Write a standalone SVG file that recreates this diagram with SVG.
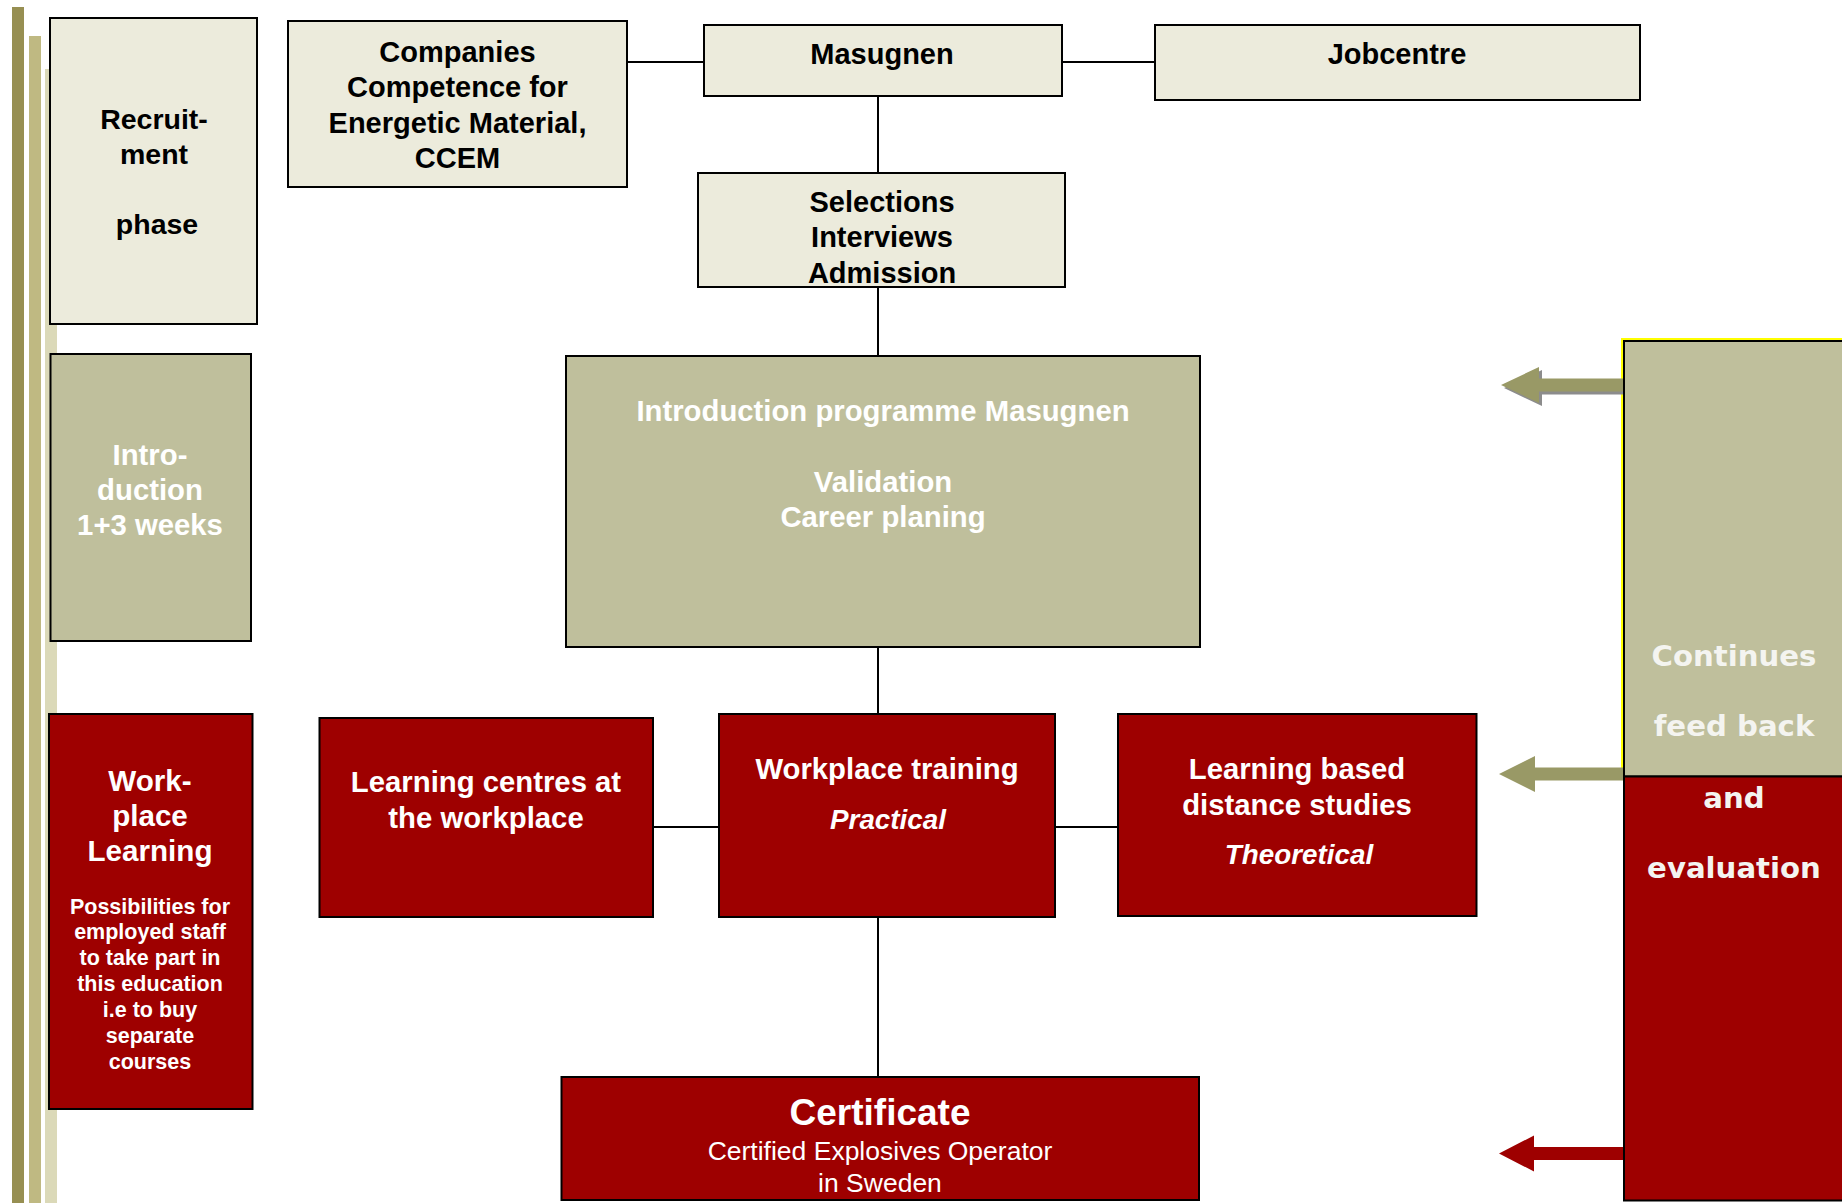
<svg xmlns="http://www.w3.org/2000/svg" width="1842" height="1203" viewBox="0 0 1842 1203">
<style>
.beige{fill:#ecebdc;stroke:#000;stroke-width:2}
.olive{fill:#bfbf9c;stroke:#000;stroke-width:2}
.red{fill:#9e0000;stroke:#000;stroke-width:2}
.conn{stroke:#000;stroke-width:2;fill:none}
text{font-family:"Liberation Sans",Arial,sans-serif;font-weight:bold;text-anchor:middle}
.dk{fill:#000;font-size:29px}
.wt{fill:#fff;font-size:29.3px}
.it{font-style:italic;font-size:27.8px}
.sm{fill:#fff;font-size:21.5px}
.vd{font-family:"DejaVu Sans",Verdana,sans-serif;fill:#f4f4f0;font-size:29.2px}
</style>
<rect width="1842" height="1203" fill="#fff"/>
<g id="bars">
<rect x="12" y="7" width="12" height="1196" fill="#978f52"/>
<rect x="29" y="36" width="12" height="1167" fill="#bfb982"/>
<rect x="45" y="69" width="12" height="1134" fill="#dbd9b8"/>
</g>
<g id="connectors">
<line class="conn" x1="627" y1="62" x2="704" y2="62"/>
<line class="conn" x1="1062" y1="62" x2="1155" y2="62"/>
<line class="conn" x1="878" y1="96" x2="878" y2="173"/>
<line class="conn" x1="878" y1="287" x2="878" y2="356"/>
<line class="conn" x1="878" y1="647" x2="878" y2="714"/>
<line class="conn" x1="878" y1="917" x2="878" y2="1077"/>
<line class="conn" x1="653" y1="827" x2="719" y2="827"/>
<line class="conn" x1="1055" y1="827" x2="1118" y2="827"/>
</g>
<g id="recruitment">
<rect class="beige" x="50" y="18" width="207" height="306"/>
<text class="dk" x="154" y="129" style="font-size:28.5px">Recruit-</text>
<text class="dk" x="154" y="164" style="font-size:28.5px">ment</text>
<text class="dk" x="157" y="234" style="font-size:28.5px">phase</text>
</g>
<g id="companies">
<rect class="beige" x="288" y="21" width="339" height="166"/>
<text class="dk" x="457.5" y="62">Companies</text>
<text class="dk" x="457.5" y="97">Competence for</text>
<text class="dk" x="457.5" y="132.5">Energetic Material,</text>
<text class="dk" x="457.5" y="168">CCEM</text>
</g>
<g id="masugnen">
<rect class="beige" x="704" y="25" width="358" height="71"/>
<text class="dk" x="882" y="64">Masugnen</text>
</g>
<g id="jobcentre">
<rect class="beige" x="1155" y="25" width="485" height="75"/>
<text class="dk" x="1397" y="64">Jobcentre</text>
</g>
<g id="selections">
<rect class="beige" x="698" y="173" width="367" height="114"/>
<text class="dk" x="882" y="212">Selections</text>
<text class="dk" x="882" y="247">Interviews</text>
<text class="dk" x="882" y="283">Admission</text>
</g>
<g id="introduction">
<rect class="olive" x="50.5" y="354" width="200.5" height="287"/>
<text class="wt" x="150" y="465">Intro-</text>
<text class="wt" x="150" y="500">duction</text>
<text class="wt" x="150" y="535">1+3 weeks</text>
</g>
<g id="intro-programme">
<rect class="olive" x="566" y="356" width="634" height="291"/>
<text class="wt" x="883" y="421">Introduction programme Masugnen</text>
<text class="wt" x="883" y="492">Validation</text>
<text class="wt" x="883" y="527">Career planing</text>
</g>
<g id="workplace-learning">
<rect class="red" x="49" y="714" width="203.5" height="395"/>
<text class="wt" x="150" y="791" style="font-size:29.6px">Work-</text>
<text class="wt" x="150" y="826" style="font-size:29.6px">place</text>
<text class="wt" x="150" y="861" style="font-size:29.6px">Learning</text>
<text class="sm" x="150" y="913.5">Possibilities for</text>
<text class="sm" x="150" y="939">employed staff</text>
<text class="sm" x="150" y="964.5">to take part in</text>
<text class="sm" x="150" y="990.5">this education</text>
<text class="sm" x="150" y="1016.5">i.e to buy</text>
<text class="sm" x="150" y="1042.5">separate</text>
<text class="sm" x="150" y="1068.5">courses</text>
</g>
<g id="learning-centres">
<rect class="red" x="319.5" y="718" width="333.5" height="199"/>
<text class="wt" x="486" y="792">Learning centres at</text>
<text class="wt" x="486" y="828">the workplace</text>
</g>
<g id="workplace-training">
<rect class="red" x="719" y="714" width="336" height="203"/>
<text class="wt" x="887" y="779">Workplace training</text>
<text class="wt it" x="888" y="829">Practical</text>
</g>
<g id="learning-based">
<rect class="red" x="1118" y="714" width="358.5" height="202"/>
<text class="wt" x="1297" y="779">Learning based</text>
<text class="wt" x="1297" y="815">distance studies</text>
<text class="wt it" x="1299" y="864">Theoretical</text>
</g>
<g id="certificate">
<rect class="red" x="561.5" y="1077" width="637.5" height="123"/>
<text x="880" y="1125" style="fill:#fff;font-size:37px">Certificate</text>
<text x="880" y="1159.5" style="fill:#fff;font-size:26.5px;font-weight:normal">Certified Explosives Operator</text>
<text x="880" y="1191.5" style="fill:#fff;font-size:26.5px;font-weight:normal">in Sweden</text>
</g>
<g id="feedback">
<polyline points="1622,770 1622,339 1844,339" fill="none" stroke="#ffff00" stroke-width="2"/>
<rect class="olive" x="1624" y="341" width="222" height="435.5"/>
<rect class="red" x="1624" y="776.5" width="222" height="424"/>
<text class="vd" x="1734" y="665.5">Continues</text>
<text class="vd" x="1734" y="736">feed back</text>
<text class="vd" x="1734" y="807.6">and</text>
<text class="vd" x="1734" y="878">evaluation</text>
</g>
<g id="arrows">
<polygon points="1504,388 1542,370 1542,381.5 1623,381.5 1623,394.5 1542,394.5 1542,406" fill="#8c8c8c"/>
<polygon points="1501,385 1539,367 1539,378.5 1623,378.5 1623,391.5 1539,391.5 1539,403" fill="#999966"/>
<polygon points="1499,774 1535,756 1535,767.5 1623,767.5 1623,780.5 1535,780.5 1535,792" fill="#999966"/>
<polygon points="1499,1153.5 1534,1135.5 1534,1147 1623,1147 1623,1160 1534,1160 1534,1171.5" fill="#9e0000"/>
</g>
</svg>
